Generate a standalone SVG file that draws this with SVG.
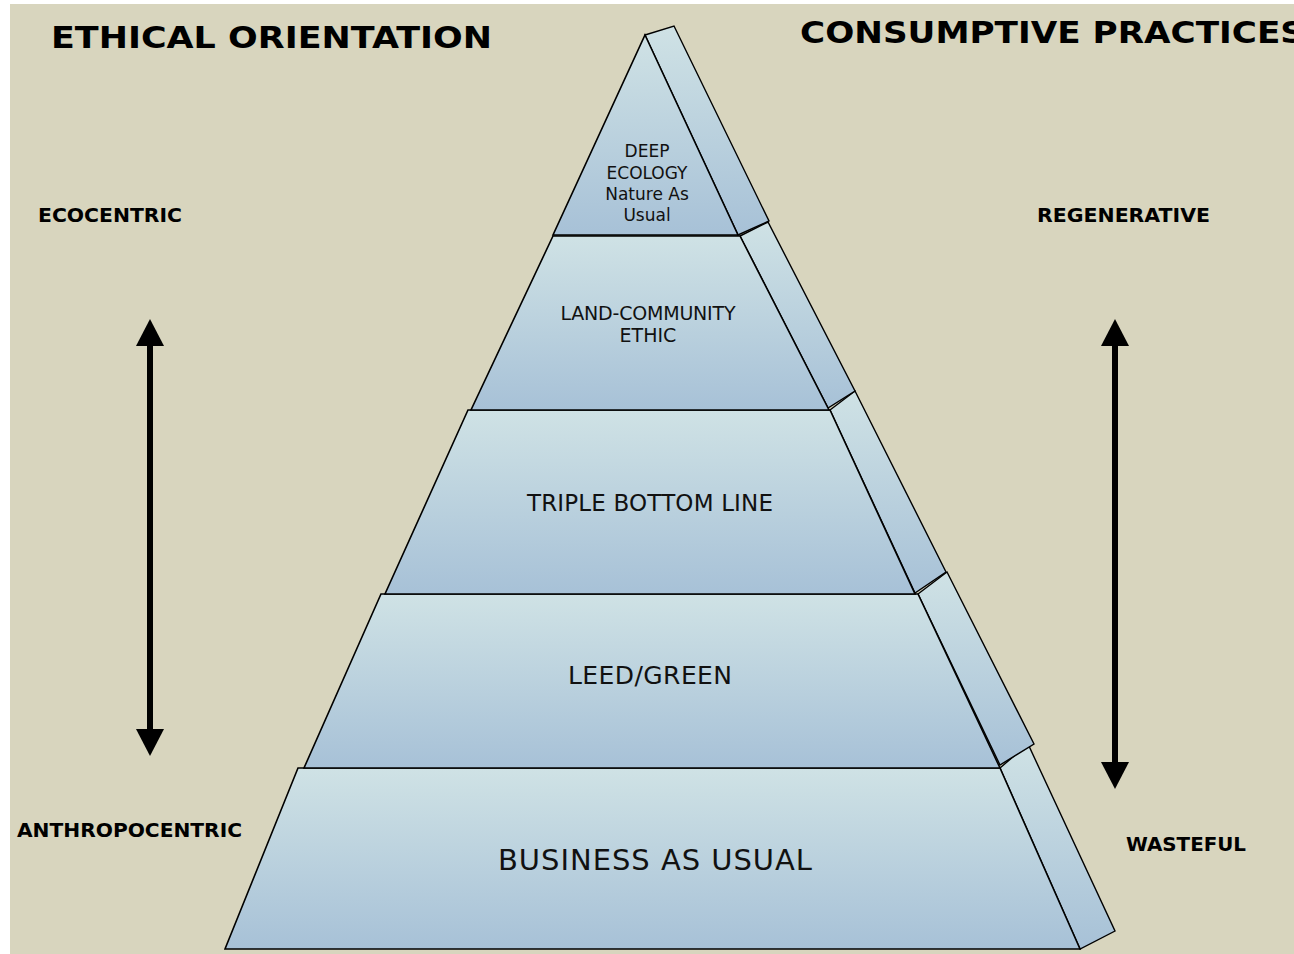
<svg xmlns="http://www.w3.org/2000/svg" width="1294" height="954" viewBox="0 0 1294 954">
<defs>
<linearGradient id="g" x1="0" y1="0" x2="0" y2="1">
<stop offset="0" stop-color="#CFE2E5"/>
<stop offset="1" stop-color="#A7C1D7"/>
</linearGradient>
<style>
.face{fill:url(#g);stroke:#000;stroke-width:1.6;stroke-linejoin:miter}
.side{fill:url(#g);stroke:#000;stroke-width:1.4}
.h{font-family:"DejaVu Sans",Verdana,sans-serif;font-weight:bold;fill:#000}
.t{font-family:"DejaVu Sans",Verdana,sans-serif;fill:#111;text-anchor:middle}
.arr{stroke:#000;stroke-width:6;fill:none}
.ahd{fill:#000}
</style>
</defs>
<rect x="10" y="4" width="1284" height="950" fill="#D8D5BE"/>

<g id="headers">
<text class="h" x="51" y="48" font-size="31" textLength="441" lengthAdjust="spacingAndGlyphs">ETHICAL ORIENTATION</text>
<text class="h" x="800" y="43" font-size="31" textLength="505" lengthAdjust="spacingAndGlyphs">CONSUMPTIVE PRACTICES</text>
<text class="h" x="38" y="222" font-size="19" textLength="144" lengthAdjust="spacingAndGlyphs">ECOCENTRIC</text>
<text class="h" x="1037" y="222" font-size="19" textLength="173" lengthAdjust="spacingAndGlyphs">REGENERATIVE</text>
<text class="h" x="17" y="837" font-size="19" textLength="225" lengthAdjust="spacingAndGlyphs">ANTHROPOCENTRIC</text>
<text class="h" x="1126" y="851" font-size="19" textLength="120" lengthAdjust="spacingAndGlyphs">WASTEFUL</text>
</g>

<g id="connectors">
<g id="arrow-left">
<line class="arr" x1="150" y1="344" x2="150" y2="730"/>
<polygon class="ahd" points="150,319 164,346 136,346"/>
<polygon class="ahd" points="150,756 164,729 136,729"/>
</g>
<g id="arrow-right">
<line class="arr" x1="1115" y1="344" x2="1115" y2="764"/>
<polygon class="ahd" points="1115,319 1129,346 1101,346"/>
<polygon class="ahd" points="1115,789 1129,762 1101,762"/>
</g>
</g>

<g id="tier-business">
<polygon class="side" points="1000,768 1028,744 1115,931 1080,949"/>
<polygon class="face" points="298,768 1000,768 1080,949 225,949"/>
<text class="t" x="655" y="870" font-size="29" textLength="314">BUSINESS AS USUAL</text>
</g>

<g id="tier-leed">
<polygon class="side" points="918,594 947,572 1034,744 1000,765"/>
<polygon class="face" points="381,594 918,594 1000,768 304,768"/>
<text class="t" x="650" y="684" font-size="25" textLength="164">LEED/GREEN</text>
</g>

<g id="tier-tbl">
<polygon class="side" points="830,410 855,391 946,572 915,593"/>
<polygon class="face" points="468,410 830,410 915,594 385,594"/>
<text class="t" x="650" y="511" font-size="23" textLength="246">TRIPLE BOTTOM LINE</text>
</g>

<g id="tier-land">
<polygon class="side" points="740,236 768,222 855,391 828,408"/>
<polygon class="face" points="553,236 740,236 829,410 471,410"/>
<text class="t" x="648" y="320" font-size="19" textLength="175">LAND-COMMUNITY</text>
<text class="t" x="648" y="342" font-size="19">ETHIC</text>
</g>

<g id="tier-deep">
<polygon class="side" points="645,35 674,26 769,221 738,235"/>
<polygon class="face" points="645,35 738,235 553,235"/>
<text class="t" x="647" y="157" font-size="17">DEEP</text>
<text class="t" x="647" y="179" font-size="17">ECOLOGY</text>
<text class="t" x="647" y="200" font-size="17">Nature As</text>
<text class="t" x="647" y="221" font-size="17">Usual</text>
</g>
</svg>
